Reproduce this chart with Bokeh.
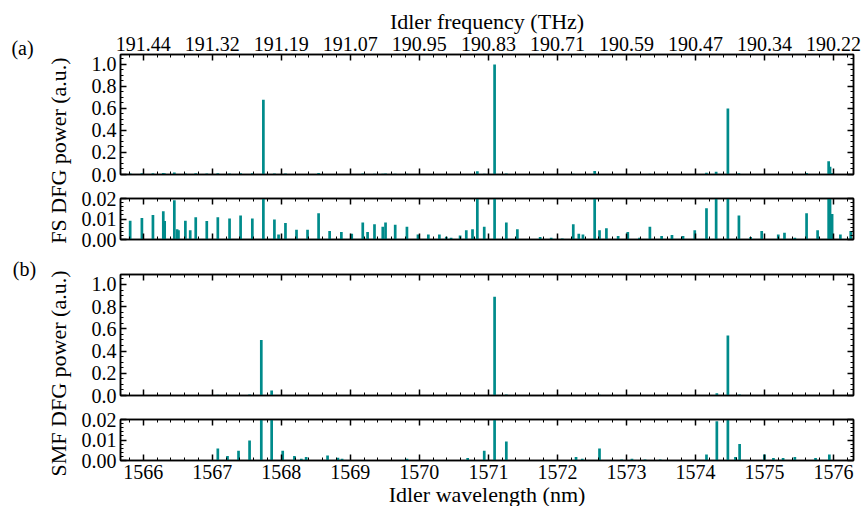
import numpy as np
from bokeh.plotting import figure
from bokeh.layouts import row, column
from bokeh.models import Range1d, LinearAxis, FixedTicker, PrintfTickFormatter
from bokeh.core.properties import value
from bokeh.embed import file_html
from bokeh.resources import INLINE

# ---------------- data ----------------
wl_ticks = [1566, 1567, 1568, 1569, 1570, 1571, 1572, 1573, 1574, 1575, 1576]
freq_tick_labels = ["191.44", "191.32", "191.19", "191.07", "190.95", "190.83",
                    "190.71", "190.59", "190.47", "190.34", "190.22"]
power_ticks = [0.0, 0.2, 0.4, 0.6, 0.8, 1.0]
zoom_ticks = [0.0, 0.01, 0.02]

# (a) FS DFG spectrum: line wavelengths (nm) and powers (a.u.)
fs_wl = [1565.81, 1565.98, 1566.14, 1566.29, 1566.31, 1566.45, 1566.49, 1566.51,
         1566.61, 1566.68, 1566.76, 1566.92, 1567.08, 1567.25, 1567.41, 1567.58,
         1567.74, 1567.90, 1567.96, 1568.06, 1568.22, 1568.38, 1568.54, 1568.70,
         1568.87, 1569.02, 1569.18, 1569.25, 1569.35, 1569.47, 1569.51, 1569.65,
         1569.82, 1569.98, 1570.13, 1570.29, 1570.39, 1570.46, 1570.59, 1570.68,
         1570.77, 1570.84, 1570.94, 1571.09, 1571.26, 1571.42, 1571.75, 1571.91,
         1572.07, 1572.23, 1572.31, 1572.37, 1572.54, 1572.61, 1572.71, 1572.88,
         1573.02, 1573.19, 1573.34, 1573.51, 1573.66, 1573.82, 1573.99, 1574.16,
         1574.30, 1574.47, 1574.63, 1574.80, 1574.96, 1575.20, 1575.29, 1575.44,
         1575.61, 1575.77, 1575.93, 1575.95, 1575.98, 1576.10, 1576.25]
fs_pw = [0.0092, 0.0105, 0.0120, 0.0138, 0.0090, 0.0192, 0.0050, 0.0045,
         0.0092, 0.0045, 0.0108, 0.0090, 0.0108, 0.0102, 0.0117, 0.0103,
         0.68, 0.0097, 0.0025, 0.0080, 0.0047, 0.0047, 0.0128, 0.0042,
         0.0037, 0.0028, 0.0083, 0.0037, 0.0075, 0.0062, 0.0083, 0.0072,
         0.0062, 0.0025, 0.0025, 0.0025, 0.0013, 0.0008, 0.0020, 0.0045,
         0.0050, 0.030, 0.0062, 1.00, 0.0083, 0.0050, 0.0012, 0.0008,
         0.0005, 0.0075, 0.0028, 0.0025, 0.032, 0.0045, 0.0055, 0.0017,
         0.0037, 0.0008, 0.0062, 0.0017, 0.0022, 0.0017, 0.0045, 0.0153,
         0.025, 0.60, 0.0117, 0.0012, 0.0042, 0.0025, 0.0033, 0.0008,
         0.0128, 0.0045, 0.12, 0.07, 0.0125, 0.0025, 0.0042]

# (b) SMF DFG spectrum
smf_wl = [1567.08, 1567.22, 1567.38, 1567.54, 1567.71, 1567.86, 1568.02, 1568.19,
          1568.29, 1568.36, 1568.67, 1568.82, 1568.88, 1569.82, 1570.70, 1570.94,
          1571.09, 1571.26, 1572.14, 1572.27, 1572.36, 1572.61, 1572.93, 1573.08,
          1573.27, 1573.49, 1574.16, 1574.31, 1574.47, 1574.58, 1574.64, 1575.00,
          1575.13, 1575.27, 1575.44, 1575.74, 1575.94]
smf_pw = [0.0059, 0.0022, 0.0047, 0.0098, 0.50, 0.045, 0.0047, 0.0022,
          0.0008, 0.0017, 0.0025, 0.0014, 0.0008, 0.0008, 0.0012, 0.0047,
          0.89, 0.0093, 0.0003, 0.0017, 0.0008, 0.0059, 0.0005, 0.0008,
          0.0005, 0.0005, 0.0029, 0.0192, 0.54, 0.0017, 0.0081, 0.0029,
          0.0012, 0.0012, 0.0017, 0.0012, 0.0029]

# ---------------- style ----------------
X_START, X_END = 1565.67, 1576.29
FONT = "Liberation Serif"
TICK_FS = "20px"
LABEL_FS = "22px"
TEAL = "#008b8b"
wl_minor = [round(v, 2) for v in np.arange(1565.8, 1576.3, 0.2)]
power_minor = [round(v, 3) for v in np.arange(0.0, 1.09, 0.05)]
zoom_minor = [round(v, 4) for v in np.arange(0.0, 0.0201, 0.002)]


def style_axis(ax, ticker, fmt=None, labels=True):
    ax.ticker = ticker
    if fmt is not None:
        ax.formatter = fmt
    ax.major_tick_in = 6
    ax.major_tick_out = 0
    ax.minor_tick_in = 3
    ax.minor_tick_out = 0
    ax.major_tick_line_width = 1.5
    ax.minor_tick_line_width = 1
    ax.axis_line_width = 1.5
    ax.axis_line_color = "black"
    ax.major_tick_line_color = "black"
    ax.minor_tick_line_color = "black"
    ax.major_label_text_font = FONT
    ax.axis_label_text_font = FONT
    ax.axis_label_text_font_style = "normal"
    ax.axis_label_text_font_size = LABEL_FS
    ax.axis_label_text_color = "black"
    if labels:
        ax.major_label_text_font_size = TICK_FS
        ax.major_label_text_color = "black"
        ax.major_label_standoff = 4
    else:
        # tick marks only: labels are not drawn at all
        ax.major_label_text_font_size = "1px"
        ax.major_label_text_color = None
        ax.major_label_standoff = 0


def panel(wl, pw, y_end, yticks, yminor, yfmt, frame_h, b_top, b_bottom,
          bottom_labels=False, top_freq=False):
    p = figure(frame_width=733, frame_height=frame_h,
               x_range=Range1d(X_START, X_END), y_range=Range1d(0, y_end),
               min_border_left=46, min_border_right=9,
               min_border_top=b_top, min_border_bottom=b_bottom,
               output_backend="svg", toolbar_location=None)
    p.xgrid.visible = False
    p.ygrid.visible = False
    p.outline_line_color = "black"
    p.outline_line_width = 1.5
    p.background_fill_color = "white"
    p.border_fill_color = "white"

    xt = FixedTicker(ticks=wl_ticks, minor_ticks=wl_minor)
    yt = FixedTicker(ticks=yticks, minor_ticks=yminor)
    style_axis(p.xaxis[0], xt, PrintfTickFormatter(format="%d"), labels=bottom_labels)
    if bottom_labels:
        p.xaxis[0].axis_label = "Idler wavelength (nm)"
        p.xaxis[0].axis_label_standoff = 0
    style_axis(p.yaxis[0], yt, PrintfTickFormatter(format=yfmt), labels=True)

    right = LinearAxis()
    style_axis(right, FixedTicker(ticks=yticks, minor_ticks=yminor), labels=False)
    p.add_layout(right, "right")

    top = LinearAxis()
    if top_freq:
        style_axis(top, FixedTicker(ticks=wl_ticks, minor_ticks=wl_minor), labels=True)
        top.major_label_overrides = {t: s for t, s in zip(wl_ticks, freq_tick_labels)}
        top.axis_label = "Idler frequency (THz)"
        top.axis_label_standoff = 0
    else:
        style_axis(top, FixedTicker(ticks=wl_ticks, minor_ticks=wl_minor), labels=False)
    p.add_layout(top, "above")

    p.segment(x0=wl, y0=[0] * len(wl), x1=wl, y1=pw, line_color=TEAL, line_width=2.7)
    return p


f1 = panel(fs_wl, fs_pw, 1.09, power_ticks, power_minor, "%.1f", 120, 54, 12, top_freq=True)
f2 = panel(fs_wl, fs_pw, 0.02, zoom_ticks, zoom_minor, "%.2f", 41, 12, 12)
f3 = panel(smf_wl, smf_pw, 1.09, power_ticks, power_minor, "%.1f", 121, 23, 12)
f4 = panel(smf_wl, smf_pw, 0.02, zoom_ticks, zoom_minor, "%.2f", 41, 12, 44, bottom_labels=True)

H = 504
lab = figure(frame_width=74, frame_height=H, x_range=Range1d(0, 74), y_range=Range1d(0, H),
             min_border=0, x_axis_location=None, y_axis_location=None,
             output_backend="svg", toolbar_location=None)
lab.xgrid.visible = False
lab.ygrid.visible = False
lab.outline_line_color = None
panel_tags = ["(a)", "(b)"]
ylabels = ["FS DFG power (a.u.)", "SMF DFG power (a.u.)"]
lab.text(x=[22, 24], y=[H - 47, H - 268], text=panel_tags, text_font=value(FONT),
         text_font_size=TICK_FS, text_align="center", text_baseline="middle", text_color="black")
lab.text(x=[58, 58], y=[H - 150, H - 373], text=ylabels, angle=np.pi / 2, text_font=value(FONT),
         text_font_size=LABEL_FS, text_align="center", text_baseline="middle", text_color="black")

layout = row(lab, column(f1, f2, f3, f4))
open("out.html", "w").write(file_html(layout, INLINE))
